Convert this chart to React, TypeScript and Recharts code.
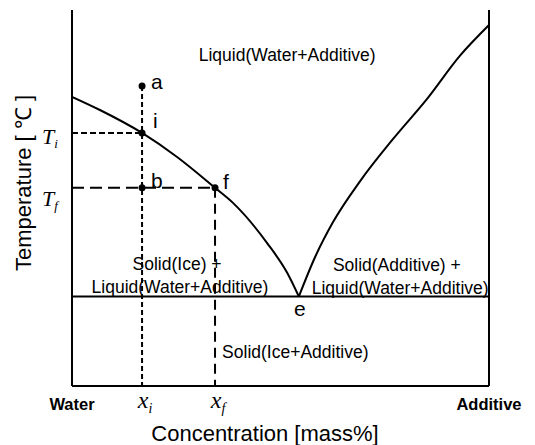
import React from 'react';
import { ComposedChart, Line, XAxis, YAxis, ReferenceLine, ReferenceDot, Label } from 'recharts';

const SANS = '"Liberation Sans", Arial, Helvetica, sans-serif';
const SERIF = '"Liberation Serif", "Times New Roman", serif';

// key compositions (relative mass%) and temperatures (relative units)
const X_I = 16.8;
const X_F = 34.3;
const X_E = 54.4;
const T_A = 79.8;
const T_I = 67.3;
const T_F = 52.7;
const T_E = 23.8;

// ice liquidus (water-rich side)
const iceLiquidusX = [0, 6.7, 16.8, 25.2, 34.3, 38.6, 46.8, 51.6, 54.4];
const iceLiquidusT = [76.9, 73.4, 67.3, 60.9, 52.7, 48.7, 38.0, 30.1, 23.8];
// additive liquidus (additive-rich side)
const additiveLiquidusX = [54.4, 58.3, 62.6, 69.1, 77.0, 85.1, 93.0, 100];
const additiveLiquidusT = [23.8, 34.3, 43.6, 54.5, 65.7, 76.3, 87.8, 96.0];

const xTickValues = [0, X_I, X_F, 100];
const xTickNames = ['Water', 'x', 'x', 'Additive'];
const xTickSubs = ['', 'i', 'f', ''];

const yTickValues = [T_F, T_I];
const yTickNames = ['T', 'T'];
const yTickSubs = ['f', 'i'];
const yTickBaselineShift = [18, 11];

const iceData = iceLiquidusX.map((x, i) => ({ x, t: iceLiquidusT[i] }));
const additiveData = additiveLiquidusX.map((x, i) => ({ x, t: additiveLiquidusT[i] }));

const findIdx = (arr: number[], v: number) => arr.findIndex((a) => Math.abs(a - v) < 1e-6);

function XTick(props: any) {
  const { x, y, payload } = props;
  const idx = findIdx(xTickValues, payload.value);
  if (idx < 0) return null;
  if (xTickSubs[idx]) {
    return (
      <text x={x + 3} y={y + 14} textAnchor="middle" fontFamily={SERIF} fontStyle="italic" fontSize={24} fill="#000">
        {xTickNames[idx]}
        <tspan fontSize={14} dy={5}>{xTickSubs[idx]}</tspan>
      </text>
    );
  }
  return (
    <text x={x} y={y + 16} textAnchor="middle" fontFamily={SANS} fontWeight="bold" fontSize={16.5} fill="#000">
      {xTickNames[idx]}
    </text>
  );
}

function YTick(props: any) {
  const { x, y, payload } = props;
  const idx = findIdx(yTickValues, payload.value);
  if (idx < 0) return null;
  return (
    <text x={x - 22} y={y + yTickBaselineShift[idx]} textAnchor="start" fontFamily={SERIF} fontStyle="italic" fontSize={22} fill="#000">
      {yTickNames[idx]}
      <tspan fontSize={13} dy={4}>{yTickSubs[idx]}</tspan>
    </text>
  );
}

const dotLabel = (txt: string, dx: number, dy: number, anchor: 'start' | 'middle' = 'start') => (props: any) => {
  const vb = props.viewBox;
  const cx = vb.x + vb.width / 2;
  const cy = vb.y + vb.height / 2;
  return (
    <text x={cx + dx} y={cy + dy} textAnchor={anchor} fontFamily={SANS} fontSize={21} fill="#000">
      {txt}
    </text>
  );
};

const regionLabel = (txt: string, anchor: 'start' | 'middle' = 'middle') => (props: any) => {
  const vb = props.viewBox;
  const cx = vb.x + vb.width / 2;
  const cy = vb.y + vb.height / 2;
  return (
    <text x={cx} y={cy + 6} textAnchor={anchor} fontFamily={SANS} fontSize={17.5} fill="#000">
      {txt}
    </text>
  );
};

const xTitle = (props: any) => {
  const vb = props.viewBox;
  return (
    <text x={vb.x + 193} y={vb.y + 55} textAnchor="middle" fontFamily={SANS} fontSize={22} fill="#000">
      Concentration [mass%]
    </text>
  );
};

const yTitle = () => (
  <text x={31} y={183} transform="rotate(-90 31 183)" textAnchor="middle" fontFamily={SANS} fontSize={22} fill="#000">
    Temperature [ ℃ ]
  </text>
);

export default function App() {
  return (
    <div style={{ position: 'absolute', left: 0, top: 0, background: '#fff' }}>
      <ComposedChart width={535} height={445} margin={{ top: 10, right: 46, left: 0, bottom: 0 }}>
        <XAxis
          type="number"
          dataKey="x"
          domain={[0, 100]}
          ticks={xTickValues}
          interval={0}
          tick={<XTick />}
          tickLine={false}
          axisLine={{ stroke: '#000', strokeWidth: 2 }}
          height={59}
          allowDataOverflow
        >
          <Label content={xTitle} />
        </XAxis>
        <YAxis
          type="number"
          domain={[0, 100]}
          ticks={yTickValues}
          interval={0}
          tick={<YTick />}
          tickLine={false}
          axisLine={{ stroke: '#000', strokeWidth: 2 }}
          width={72}
          allowDataOverflow
        >
          <Label content={yTitle} />
        </YAxis>

        {/* right border */}
        <ReferenceLine segment={[{ x: 100, y: 0 }, { x: 100, y: 100 }]} stroke="#000" strokeWidth={2} />
        {/* eutectic line */}
        <ReferenceLine y={T_E} stroke="#000" strokeWidth={2} />

        {/* dashed construction lines */}
        <ReferenceLine segment={[{ x: X_I, y: T_A }, { x: X_I, y: 0 }]} stroke="#000" strokeWidth={2} strokeDasharray="5 3" />
        <ReferenceLine segment={[{ x: 0, y: T_I }, { x: X_I, y: T_I }]} stroke="#000" strokeWidth={2} strokeDasharray="6 3" />
        <ReferenceLine segment={[{ x: 0, y: T_F }, { x: X_F, y: T_F }]} stroke="#000" strokeWidth={2} strokeDasharray="12 6" />
        <ReferenceLine segment={[{ x: X_F, y: T_F }, { x: X_F, y: 0 }]} stroke="#000" strokeWidth={2} strokeDasharray="10 6" />

        <Line data={iceData} dataKey="t" type="monotone" stroke="#000" strokeWidth={2} dot={false} isAnimationActive={false} />
        <Line data={additiveData} dataKey="t" type="monotone" stroke="#000" strokeWidth={2} dot={false} isAnimationActive={false} />

        {/* state points */}
        <ReferenceDot x={X_I} y={T_A} r={3.5} fill="#000" stroke="none" label={dotLabel('a', 9, 3)} />
        <ReferenceDot x={X_I} y={T_I} r={3.5} fill="#000" stroke="none" label={dotLabel('i', 11, -5)} />
        <ReferenceDot x={X_I} y={T_F} r={3.5} fill="#000" stroke="none" label={dotLabel('b', 9, 0)} />
        <ReferenceDot x={X_F} y={T_F} r={3.5} fill="#000" stroke="none" label={dotLabel('f', 8, 1)} />
        <ReferenceDot x={X_E} y={T_E} r={1} fill="none" stroke="none" label={dotLabel('e', 1, 19, 'middle')} />

        {/* region labels */}
        <ReferenceDot x={51.6} y={88.0} r={1} fill="none" stroke="none" label={regionLabel('Liquid(Water+Additive)')} />
        <ReferenceDot x={25.2} y={32.4} r={1} fill="none" stroke="none" label={regionLabel('Solid(Ice) +')} />
        <ReferenceDot x={25.9} y={26.3} r={1} fill="none" stroke="none" label={regionLabel('Liquid(Water+Additive)')} />
        <ReferenceDot x={77.9} y={32.2} r={1} fill="none" stroke="none" label={regionLabel('Solid(Additive) +')} />
        <ReferenceDot x={78.7} y={26.1} r={1} fill="none" stroke="none" label={regionLabel('Liquid(Water+Additive)')} />
        <ReferenceDot x={36.0} y={9.0} r={1} fill="none" stroke="none" label={regionLabel('Solid(Ice+Additive)', 'start')} />
      </ComposedChart>
    </div>
  );
}
